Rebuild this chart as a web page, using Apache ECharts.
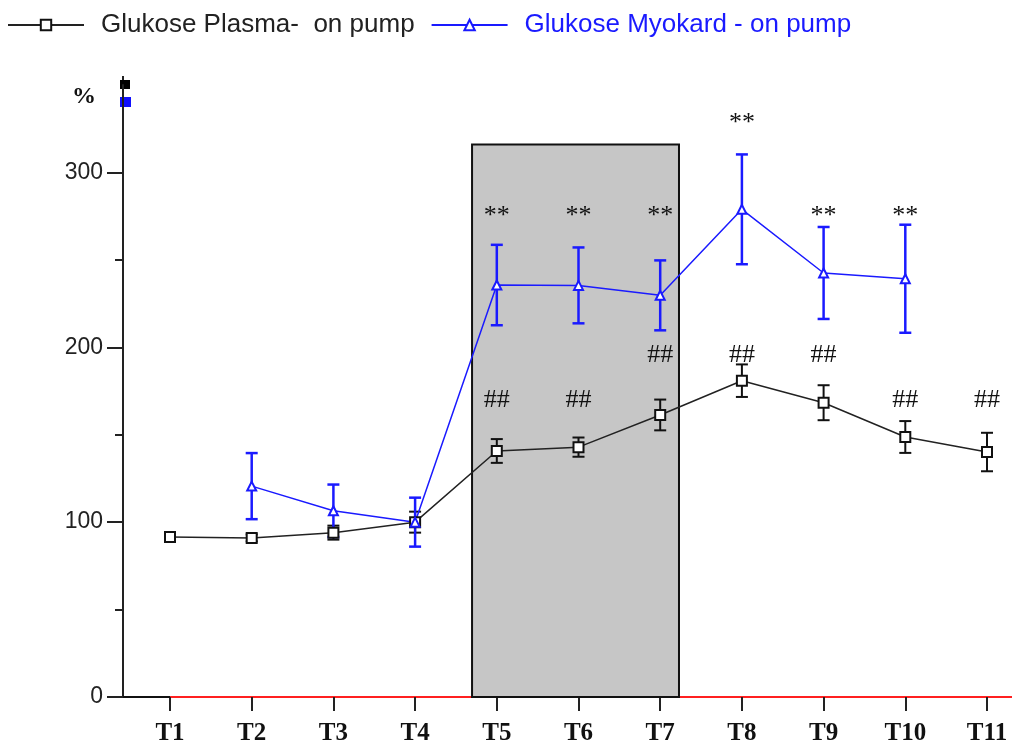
<!DOCTYPE html>
<html><head><meta charset="utf-8">
<script src="https://cdn.jsdelivr.net/npm/echarts@6/dist/echarts.min.js"></script>
<style>html,body{margin:0;padding:0;background:#fff}#c{width:1012px;height:746px}</style>
</head><body><div id="c"></div>
<script>
const categories = ['T1','T2','T3','T4','T5','T6','T7','T8','T9','T10','T11'];
const plasmaName = 'Glukose Plasma-  on pump';
const myoName = 'Glukose Myokard - on pump';
const plasmaMean = [91.5, 91, 94, 100, 140.7, 142.9, 161.3, 180.9, 168.3, 148.7, 140.1];
const plasmaErr  = [0, 2, 4, 6, 6.8, 5.5, 8.8, 9.3, 10, 9.1, 11];
const myoMean = [null, 120.6, 106.5, 100, 235.6, 235.4, 229.7, 278.9, 242.5, 239.2, null];
const myoErr  = [null, 18.9, 15, 14, 23, 21.7, 20, 31.4, 26.3, 30.9, null];
const starsY  = [null, null, null, null, 277.4, 277.4, 277.4, 330.3, 277.4, 277.4, null];
const hashY   = [null, null, null, null, 170.9, 170.9, 196.6, 196.6, 196.6, 170.9, 170.9];
const yTicks = [0, 100, 200, 300];
const yMinorTicks = [50, 150, 250];
const shadedX = [4.697, 7.23];
const shadedTop = 316;

const toPts = (arr) => arr.map((v, i) => v == null ? null : [i + 1, v]).filter(Boolean);
const toErr = (m, e) => m.map((v, i) => v == null ? null : [i + 1, v, e[i]]).filter(Boolean);

function errRender(color, lw, hw) {
  return function (params, api) {
    const x = api.value(0), y = api.value(1), e = api.value(2);
    if (!e) return null;
    const t = api.coord([x, y + e]), b = api.coord([x, y - e]);
    const st = { stroke: color, lineWidth: lw };
    return { type: 'group', children: [
      { type: 'line', shape: { x1: t[0], y1: t[1], x2: b[0], y2: b[1] }, style: st },
      { type: 'line', shape: { x1: t[0] - hw, y1: t[1], x2: t[0] + hw, y2: t[1] }, style: st },
      { type: 'line', shape: { x1: b[0] - hw, y1: b[1], x2: b[0] + hw, y2: b[1] }, style: st }
    ]};
  };
}
function textRender(dy) {
  return function (params, api) {
    const p = api.coord([api.value(0), api.value(1)]);
    return { type: 'text', x: p[0], y: p[1] + dy, style: {
      text: api.value(2), fill: '#111', font: '26px "Liberation Serif"',
      textAlign: 'center', textVerticalAlign: 'top' } };
  };
}

const chart = echarts.init(document.getElementById('c'), null, { renderer: 'canvas' });
chart.setOption({
  animation: false,
  backgroundColor: '#fff',
  legend: {
    left: 2, top: 7, itemWidth: 76, itemHeight: 13, itemGap: 16,
    textStyle: { fontFamily: 'Liberation Sans', fontSize: 26, color: '#222', padding: [0, 0, 0, 12] },
    data: [
      { name: plasmaName, textStyle: { color: '#222' } },
      { name: myoName, textStyle: { color: '#1a1aff' } }
    ]
  },
  title: { text: '%', left: 67, top: 80, textStyle: { fontFamily: 'Liberation Serif', fontWeight: 'bold', fontSize: 24, color: '#111' } },
  grid: { left: 123, right: 0, top: 85, bottom: 49 },
  xAxis: {
    type: 'value', min: 0.4247, max: 11.306,
    splitLine: { show: false },
    axisLine: { lineStyle: { color: '#ff2020', width: 2 } },
    axisTick: { customValues: [1,2,3,4,5,6,7,8,9,10,11], length: 14, lineStyle: { color: '#222', width: 2 } },
    axisLabel: { customValues: [1,2,3,4,5,6,7,8,9,10,11], margin: 24,
      formatter: (v) => categories[Math.round(v) - 1] || '',
      fontFamily: 'Liberation Serif', fontWeight: 'bold', fontSize: 25, color: '#111' }
  },
  yAxis: [{
    type: 'value', min: 0, max: 350, position: 'left',
    splitLine: { show: false },
    axisLine: { show: true, lineStyle: { color: '#222', width: 2 } },
    axisTick: { customValues: yTicks, length: 16, lineStyle: { color: '#222', width: 2 } },
    axisLabel: { customValues: yTicks, margin: 20, fontFamily: 'Liberation Sans', fontSize: 23, color: '#222' }
  }, {
    type: 'value', min: 0, max: 350, position: 'left', offset: 0,
    splitLine: { show: false },
    axisLine: { show: false },
    axisTick: { show: true, customValues: yMinorTicks, length: 8, lineStyle: { color: '#222', width: 2 } },
    axisLabel: { show: false }
  }],
  graphic: [
    { type: 'line', shape: { x1: 123, y1: 76, x2: 123, y2: 86 }, style: { stroke: '#222', lineWidth: 2 } },
    { type: 'rect', shape: { x: 120, y: 80, width: 10, height: 9 }, style: { fill: '#000' } },
    { type: 'rect', shape: { x: 120, y: 97, width: 11, height: 10 }, style: { fill: '#1010ff' } }
  ],
  series: [
    { type: 'line', name: '_shade', data: [], silent: true, z: 1,
      markArea: { silent: true, itemStyle: { color: '#c6c6c6', borderColor: '#111', borderWidth: 2 },
        data: [[{ xAxis: shadedX[0], yAxis: 0 }, { xAxis: shadedX[1], yAxis: shadedTop }]] } },
    { type: 'line', name: '_axisblack', data: [[0.4247, 0], [1, 0]], symbol: 'none', z: 5,
      lineStyle: { color: '#111', width: 2 } },
    { type: 'custom', name: '_plasmaErr', data: toErr(plasmaMean, plasmaErr), z: 3,
      renderItem: errRender('#111', 2, 6) },
    { type: 'custom', name: '_myoErr', data: toErr(myoMean, myoErr), z: 3,
      renderItem: errRender('#1a1aff', 2.5, 6) },
    { type: 'line', name: plasmaName, data: toPts(plasmaMean), z: 4,
      symbol: 'rect', symbolSize: 10,
      lineStyle: { color: '#222', width: 1.5 },
      itemStyle: { color: '#fff', borderColor: '#111', borderWidth: 2 } },
    { type: 'line', name: myoName, data: toPts(myoMean), z: 4,
      symbol: 'triangle', symbolSize: 9,
      lineStyle: { color: '#1a1aff', width: 1.5 },
      itemStyle: { color: '#fff', borderColor: '#1a1aff', borderWidth: 2 } },
    { type: 'custom', name: '_stars', z: 6,
      data: starsY.map((v, i) => v == null ? null : [i + 1, v, '**']).filter(Boolean),
      renderItem: textRender(-9) },
    { type: 'custom', name: '_hash', z: 6,
      data: hashY.map((v, i) => v == null ? null : [i + 1, v, '##']).filter(Boolean),
      renderItem: textRender(-11) }
  ]
});
</script></body></html>
